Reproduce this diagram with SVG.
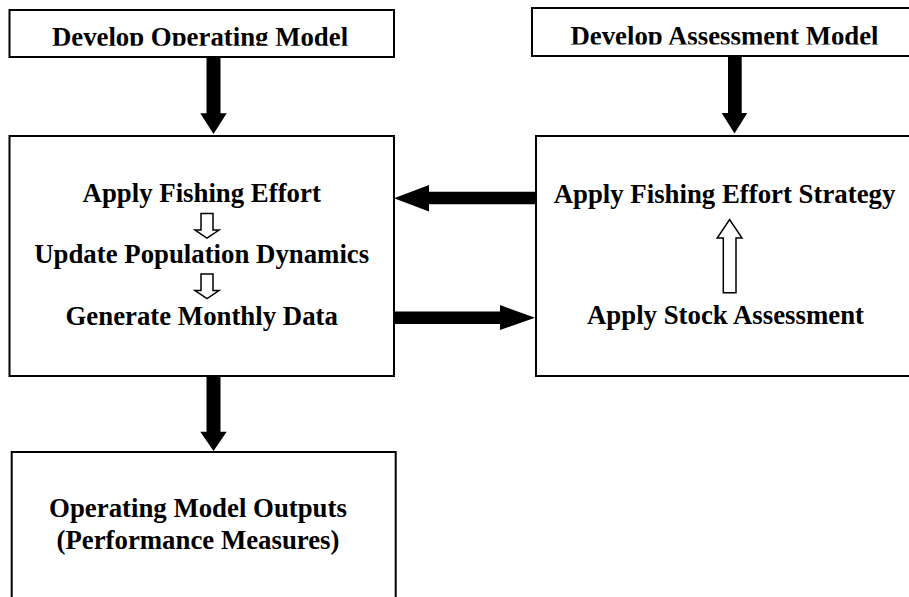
<svg xmlns="http://www.w3.org/2000/svg" width="909" height="597" viewBox="0 0 909 597">
<style>
.box{fill:#fff;stroke:#000;stroke-width:2}
.t{font-family:"Liberation Serif","Times New Roman",serif;font-weight:bold;font-size:26.8px;fill:#000;text-anchor:middle}
.solid{fill:#000;stroke:none}
.hollow{fill:#fff;stroke:#000;stroke-width:1.5;stroke-linejoin:miter}
</style>
<defs>
<clipPath id="c1"><rect x="0" y="0" width="909" height="45.8"/></clipPath>
<clipPath id="c2"><rect x="0" y="0" width="909" height="44.5"/></clipPath>
</defs>
<g id="develop-operating-model">
<rect class="box" x="9.5" y="10" width="384.5" height="47"/>
<text class="t" x="200" y="45.8" clip-path="url(#c1)">Develop Operating Model</text>
</g>
<g id="develop-assessment-model">
<rect class="box" x="532" y="8" width="400" height="48"/>
<text class="t" x="724.5" y="44.8" clip-path="url(#c2)">Develop Assessment Model</text>
</g>
<g id="operating-model">
<rect class="box" x="9.5" y="136" width="384.5" height="240"/>
<text class="t" x="201.7" y="202.3">Apply Fishing Effort</text>
<text class="t" x="201.7" y="263">Update Population Dynamics</text>
<text class="t" x="201.7" y="324.5">Generate Monthly Data</text>
</g>
<g id="assessment-model">
<rect class="box" x="536" y="136" width="400" height="240"/>
<text class="t" x="724.5" y="203">Apply Fishing Effort Strategy</text>
<text class="t" x="725.5" y="324.3">Apply Stock Assessment</text>
</g>
<g id="outputs">
<rect class="box" x="11.7" y="452" width="384" height="180"/>
<text class="t" x="198" y="517.3">Operating Model Outputs</text>
<text class="t" x="198" y="548.5">(Performance Measures)</text>
</g>
<g id="connectors">
<polygon class="solid" points="206.5,58 220.5,58 220.5,113.3 226.7,113.3 213.5,134 200.3,113.3 206.5,113.3"/>
<polygon class="solid" points="728,57 741.7,57 741.7,113 747.3,113 734.5,133.5 721.7,113 728,113"/>
<polygon class="solid" points="535,191.7 535,204.3 429,204.3 429,211.5 394,198.3 429,185 429,191.7"/>
<polygon class="solid" points="394,311.5 500,311.5 500,305 535,317.7 500,330 500,324 394,324"/>
<polygon class="solid" points="206.5,377 220.5,377 220.5,431.7 226.7,431.7 213.5,451 200.3,431.7 206.5,431.7"/>
<polygon class="hollow" points="201,213.5 213,213.5 213,230 219,230 207,238 195,230 201,230"/>
<polygon class="hollow" points="201,274 213,274 213,290.5 219,290.5 207,298.5 195,290.5 201,290.5"/>
<polygon class="hollow" points="723.3,292.7 736,292.7 736,238 742,238 729.6,219.5 717.2,238 723.3,238"/>
</g>
</svg>
